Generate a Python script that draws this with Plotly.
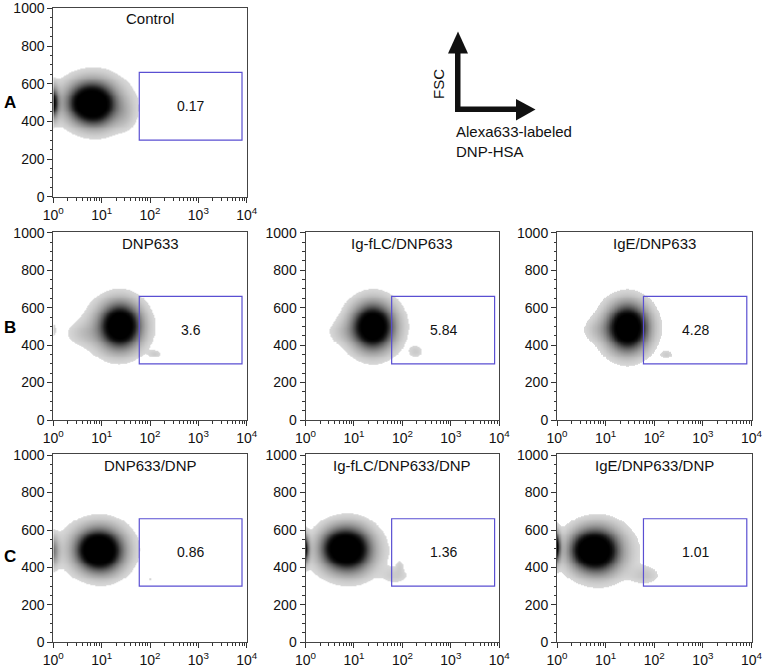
import numpy as np
import plotly.graph_objects as go

# ---------------- data ----------------
panel_titles = ["Control", "DNP633", "Ig-fLC/DNP633", "IgE/DNP633",
                "DNP633/DNP", "Ig-fLC/DNP633/DNP", "IgE/DNP633/DNP"]
gate_percent = ["0.17", "3.6", "5.84", "4.28", "0.86", "1.36", "1.01"]
panel_row = [0, 1, 1, 1, 2, 2, 2]
panel_col = [0, 0, 1, 2, 0, 1, 2]
row_labels = ["A", "B", "C"]

gate_x = [60, 8000]      # Alexa633 intensity limits of the gate
gate_y = [300, 660]      # FSC limits of the gate

x_tick_vals = [1, 10, 100, 1000, 10000]
x_tick_text = ["10<sup>0</sup>", "10<sup>1</sup>", "10<sup>2</sup>",
               "10<sup>3</sup>", "10<sup>4</sup>"]
y_tick_vals = [0, 200, 400, 600, 800, 1000]

# cell populations: (log10 Alexa633 centre, FSC centre, log10 spread, FSC spread, relative density)
pop_control = [(0.62, 500, 0.22, 60, 0.55), (0.90, 492, 0.24, 66, 0.8),
               (-0.05, 500, 0.09, 50, 0.9), (0.80, 505, 0.45, 82, 0.22),
               (1.45, 440, 0.16, 55, 0.07)]
pop_dnp633 = [(1.38, 505, 0.24, 68, 1.0), (1.32, 498, 0.36, 90, 0.22),
              (0.65, 465, 0.25, 42, 0.07), (0.00, 485, 0.05, 28, 0.05),
              (2.10, 355, 0.09, 14, 0.055)]
pop_iglc_dnp633 = [(1.38, 500, 0.24, 68, 1.0), (1.40, 500, 0.34, 90, 0.22),
                   (0.80, 472, 0.22, 40, 0.06), (2.27, 368, 0.10, 22, 0.06)]
pop_ige_dnp633 = [(1.45, 495, 0.24, 70, 1.0), (1.42, 495, 0.32, 90, 0.22),
                  (0.85, 484, 0.20, 40, 0.07), (2.25, 352, 0.09, 16, 0.06)]
pop_dnp633_dnp = [(0.80, 495, 0.22, 60, 0.6), (1.05, 490, 0.24, 66, 0.75),
                  (-0.05, 490, 0.10, 50, 0.35), (0.90, 502, 0.42, 85, 0.22),
                  (2.00, 338, 0.03, 8, 0.04)]
pop_iglc_dnp633_dnp = [(0.65, 505, 0.22, 62, 0.6), (0.95, 500, 0.24, 68, 0.75),
                       (-0.05, 500, 0.07, 45, 0.9), (0.85, 490, 0.42, 85, 0.22),
                       (1.85, 360, 0.18, 30, 0.06), (1.94, 410, 0.05, 25, 0.04)]
pop_ige_dnp633_dnp = [(0.58, 495, 0.22, 62, 0.6), (0.88, 492, 0.24, 68, 0.75),
                      (-0.05, 510, 0.07, 50, 0.9), (0.85, 490, 0.42, 88, 0.22),
                      (1.80, 360, 0.20, 32, 0.07)]
panel_pops = [pop_control, pop_dnp633, pop_iglc_dnp633, pop_ige_dnp633,
              pop_dnp633_dnp, pop_iglc_dnp633_dnp, pop_ige_dnp633_dnp]

# ---------------- layout geometry (pixels) ----------------
W, H = 764, 671
col_px = [(53.3, 246.7), (305.5, 499.3), (557.0, 751.5)]
row_px = [(7.5, 196.7), (231.8, 420.0), (454.2, 642.3)]
Y_RANGE = [0, 1005]
X_RANGE = [0, 4]
FONT = "Liberation Sans, Arial"

THRESH = 0.03
ZSAT = 0.8


def frac(v):
    return v / ZSAT


gray_scale = [[0, "#ffffff"], [frac(THRESH) - 1e-4, "#ffffff"], [frac(THRESH), "#d8d8d8"],
              [frac(0.1), "#bcbcbc"], [frac(0.32), "#737373"], [frac(0.55), "#262626"],
              [frac(0.67), "#0c0c0c"], [1, "#000000"]]

u_grid = np.linspace(0, 4, 321)
y_grid = np.linspace(0, 1010, 203)
UU, YY = np.meshgrid(u_grid, y_grid)


def density(pops):
    z = np.zeros_like(UU)
    for (u0, y0, su, sy, w) in pops:
        z += w * np.exp(-0.5 * (((UU - u0) / su) ** 2 + ((YY - y0) / sy) ** 2))
    return z


fig = go.Figure()
shapes = []
annotations = []
layout_axes = {}

minor_x = [m * 10 ** d for d in range(4) for m in range(2, 10)]

for i, pops in enumerate(panel_pops):
    r, c = panel_row[i], panel_col[i]
    n = i + 1
    xa = "x" if n == 1 else f"x{n}"
    ya = "y" if n == 1 else f"y{n}"
    xkey = "xaxis" if n == 1 else f"xaxis{n}"
    ykey = "yaxis" if n == 1 else f"yaxis{n}"
    x0p, x1p = col_px[c]
    y0p, y1p = row_px[r]
    z = density(pops)
    fig.add_trace(go.Heatmap(x=10 ** u_grid, y=y_grid, z=z, xaxis=xa, yaxis=ya,
                             colorscale=gray_scale, zmin=0, zmax=ZSAT,
                             zsmooth="best", showscale=False, hoverinfo="skip"))
    axis_common = dict(showline=True, linecolor="#444", linewidth=1, mirror=True,
                       ticks="outside", ticklen=5, tickcolor="#333", tickwidth=1,
                       showgrid=False, zeroline=False,
                       tickfont=dict(family=FONT, size=14, color="#111"))
    layout_axes[xkey] = dict(axis_common, type="log", range=X_RANGE,
                             domain=[x0p / W, x1p / W], anchor=ya,
                             tickmode="array", tickvals=x_tick_vals, ticktext=x_tick_text,
                             minor=dict(tickmode="array", tickvals=minor_x, ticks="outside",
                                        ticklen=3, tickcolor="#333"))
    layout_axes[ykey] = dict(axis_common, range=Y_RANGE,
                             domain=[1 - y1p / H, 1 - y0p / H], anchor=xa,
                             tickmode="array", tickvals=y_tick_vals,
                             minor=dict(dtick=50, ticks="outside", ticklen=2.5, tickcolor="#333"))
    shapes.append(dict(type="rect", xref=xa, yref=ya, x0=gate_x[0], x1=gate_x[1],
                       y0=gate_y[0], y1=gate_y[1], line=dict(color="#5a4fd2", width=1.2),
                       layer="above"))
    annotations.append(dict(xref=xa, yref=ya,
                            x=(np.log10(gate_x[0]) + np.log10(gate_x[1])) / 2,
                            y=(gate_y[0] + gate_y[1]) / 2, text=gate_percent[i],
                            xanchor="center", yanchor="middle", showarrow=False,
                            font=dict(family=FONT, size=14, color="#111")))
    annotations.append(dict(xref=xa, yref=ya, x=(X_RANGE[0] + X_RANGE[1]) / 2, y=945,
                            text=panel_titles[i], xanchor="center", yanchor="middle",
                            showarrow=False, font=dict(family=FONT, size=15, color="#111")))

# row letters
row_letter_py = [102.5, 328, 556]
for k, lab in enumerate(row_labels):
    annotations.append(dict(xref="paper", yref="paper", x=9.5 / W, y=1 - row_letter_py[k] / H,
                            text=f"<b>{lab}</b>", xanchor="center", yanchor="middle",
                            showarrow=False, font=dict(family=FONT, size=17, color="#000")))


# orientation key (FSC up, Alexa633 right)
def px(xp, yp):
    return xp / W, 1 - yp / H


def path(points):
    return "M " + " L ".join(f"{px(a, b)[0]:.5f},{px(a, b)[1]:.5f}" for a, b in points) + " Z"


key_color = "#111"
for pts in ([(455, 52), (460.5, 52), (460.5, 112), (455, 112)],
            [(448, 53.5), (468, 53.5), (458, 31.5)],
            [(455, 106.5), (517, 106.5), (517, 112), (455, 112)],
            [(516, 99), (516, 120.5), (535.5, 109.5)]):
    shapes.append(dict(type="path", xref="paper", yref="paper", path=path(pts),
                       fillcolor=key_color, line=dict(width=0)))

ax, ay = px(438, 84)
annotations.append(dict(xref="paper", yref="paper", x=ax, y=ay, text="FSC", textangle=-90,
                        xanchor="center", yanchor="middle", showarrow=False,
                        font=dict(family=FONT, size=15, color="#111")))
ax, ay = px(454, 141.5)
annotations.append(dict(xref="paper", yref="paper", x=ax, y=ay,
                        text="Alexa633-labeled<br>DNP-HSA", align="left",
                        xanchor="left", yanchor="middle", showarrow=False,
                        font=dict(family=FONT, size=15, color="#111")))

fig.update_layout(width=W, height=H, margin=dict(l=0, r=0, t=0, b=0, autoexpand=False),
                  paper_bgcolor="white", plot_bgcolor="white", showlegend=False,
                  shapes=shapes, annotations=annotations, **layout_axes)

fig.write_html("out.html", config={"displayModeBar": False},
               post_script="document.body.style.margin='0px';")
